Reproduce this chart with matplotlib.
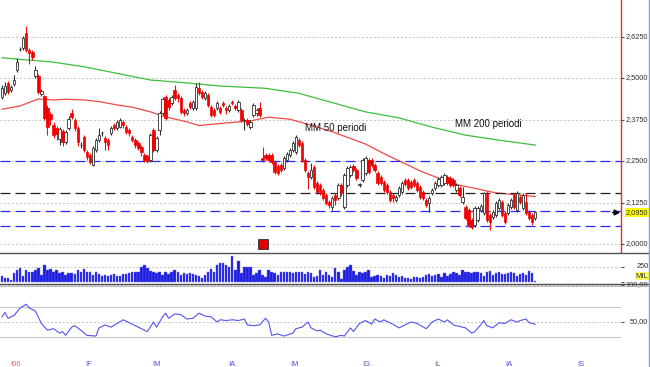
import matplotlib.pyplot as plt
import matplotlib.transforms as mtransforms
from matplotlib.lines import Line2D
import numpy as np

plt.rcParams['font.family'] = ['Liberation Sans', 'DejaVu Sans']

# candele giornaliere: apertura, massimo, minimo, chiusura
opens = [
    2.443, 2.455, 2.485, 2.464, 2.482, 2.524, 2.587, 2.590, 2.636, 2.584,
    2.578, 2.506, 2.506, 2.452, 2.446, 2.410, 2.392, 2.358, 2.349, 2.316,
    2.340, 2.307, 2.349, 2.395, 2.373, 2.349, 2.298, 2.322, 2.277, 2.268,
    2.238, 2.283, 2.313, 2.334, 2.319, 2.313, 2.334, 2.358, 2.349, 2.352,
    2.367, 2.352, 2.343, 2.322, 2.313, 2.304, 2.292, 2.268, 2.265, 2.253,
    2.343, 2.283, 2.343, 2.395, 2.443, 2.434, 2.425, 2.464, 2.449, 2.440,
    2.404, 2.395, 2.425, 2.410, 2.410, 2.470, 2.458, 2.440, 2.449, 2.413,
    2.404, 2.410, 2.410, 2.425, 2.410, 2.404, 2.428, 2.416, 2.404, 2.404,
    2.373, 2.373, 2.352, 2.389, 2.395, 2.410, 2.259, 2.268, 2.268, 2.268,
    2.247, 2.235, 2.238, 2.229, 2.253, 2.268, 2.283, 2.277, 2.313, 2.304,
    2.253, 2.214, 2.202, 2.232, 2.184, 2.178, 2.163, 2.148, 2.127, 2.111,
    2.148, 2.139, 2.178, 2.111, 2.178, 2.208, 2.235, 2.223, 2.178, 2.193,
    2.214, 2.253, 2.253, 2.238, 2.214, 2.202, 2.187, 2.178, 2.157, 2.148,
    2.133, 2.148, 2.157, 2.193, 2.193, 2.187, 2.193, 2.184, 2.172, 2.157,
    2.133, 2.123, 2.154, 2.169, 2.178, 2.178, 2.184, 2.202, 2.199, 2.193,
    2.163, 2.169, 2.127, 2.111, 2.102, 2.072, 2.057, 2.072, 2.102, 2.093,
    2.154, 2.087, 2.081, 2.087, 2.108, 2.127, 2.093, 2.093, 2.111, 2.148,
    2.102, 2.142, 2.108, 2.127, 2.096, 2.087, 2.078]
highs = [
    2.479, 2.488, 2.491, 2.479, 2.509, 2.560, 2.593, 2.627, 2.657, 2.590,
    2.584, 2.536, 2.512, 2.467, 2.449, 2.419, 2.398, 2.367, 2.355, 2.352,
    2.346, 2.343, 2.386, 2.407, 2.380, 2.355, 2.307, 2.328, 2.283, 2.274,
    2.295, 2.319, 2.349, 2.340, 2.325, 2.319, 2.355, 2.364, 2.373, 2.380,
    2.373, 2.358, 2.349, 2.328, 2.319, 2.310, 2.298, 2.274, 2.271, 2.334,
    2.349, 2.325, 2.401, 2.443, 2.449, 2.440, 2.449, 2.479, 2.455, 2.446,
    2.410, 2.410, 2.431, 2.434, 2.485, 2.488, 2.464, 2.461, 2.455, 2.419,
    2.410, 2.431, 2.416, 2.431, 2.416, 2.422, 2.434, 2.422, 2.434, 2.410,
    2.380, 2.380, 2.373, 2.425, 2.410, 2.428, 2.292, 2.274, 2.274, 2.274,
    2.253, 2.241, 2.244, 2.265, 2.277, 2.289, 2.310, 2.328, 2.319, 2.310,
    2.259, 2.220, 2.244, 2.238, 2.190, 2.184, 2.169, 2.154, 2.133, 2.145,
    2.154, 2.184, 2.184, 2.214, 2.235, 2.238, 2.241, 2.229, 2.184, 2.259,
    2.265, 2.259, 2.259, 2.244, 2.220, 2.208, 2.193, 2.184, 2.163, 2.154,
    2.148, 2.175, 2.190, 2.199, 2.199, 2.193, 2.199, 2.190, 2.178, 2.163,
    2.139, 2.145, 2.169, 2.190, 2.202, 2.208, 2.214, 2.208, 2.205, 2.199,
    2.184, 2.175, 2.172, 2.117, 2.108, 2.078, 2.114, 2.114, 2.120, 2.157,
    2.160, 2.093, 2.102, 2.130, 2.139, 2.133, 2.099, 2.123, 2.139, 2.154,
    2.160, 2.148, 2.154, 2.154, 2.102, 2.093, 2.099]
lows = [
    2.437, 2.449, 2.452, 2.458, 2.476, 2.518, 2.581, 2.584, 2.578, 2.542,
    2.554, 2.500, 2.452, 2.446, 2.373, 2.328, 2.358, 2.319, 2.313, 2.298,
    2.295, 2.301, 2.343, 2.377, 2.340, 2.295, 2.289, 2.277, 2.253, 2.241,
    2.235, 2.277, 2.307, 2.325, 2.283, 2.283, 2.328, 2.343, 2.343, 2.349,
    2.349, 2.331, 2.325, 2.307, 2.289, 2.283, 2.265, 2.247, 2.244, 2.247,
    2.277, 2.277, 2.328, 2.389, 2.373, 2.404, 2.419, 2.434, 2.428, 2.392,
    2.386, 2.389, 2.407, 2.404, 2.404, 2.449, 2.437, 2.434, 2.413, 2.383,
    2.383, 2.404, 2.392, 2.413, 2.392, 2.398, 2.419, 2.404, 2.398, 2.367,
    2.343, 2.355, 2.346, 2.383, 2.386, 2.383, 2.247, 2.253, 2.247, 2.241,
    2.211, 2.208, 2.217, 2.223, 2.247, 2.262, 2.277, 2.271, 2.292, 2.247,
    2.217, 2.166, 2.196, 2.166, 2.151, 2.148, 2.133, 2.117, 2.108, 2.102,
    2.117, 2.133, 2.145, 2.105, 2.172, 2.202, 2.217, 2.193, 2.172, 2.187,
    2.208, 2.211, 2.232, 2.217, 2.178, 2.178, 2.157, 2.151, 2.127, 2.127,
    2.127, 2.142, 2.151, 2.175, 2.163, 2.166, 2.172, 2.157, 2.136, 2.133,
    2.111, 2.096, 2.148, 2.163, 2.172, 2.172, 2.178, 2.178, 2.172, 2.172,
    2.157, 2.142, 2.120, 2.072, 2.051, 2.045, 2.051, 2.066, 2.096, 2.087,
    2.066, 2.042, 2.075, 2.081, 2.102, 2.081, 2.060, 2.087, 2.105, 2.105,
    2.096, 2.120, 2.102, 2.087, 2.072, 2.057, 2.072]
closes = [
    2.470, 2.476, 2.458, 2.473, 2.494, 2.548, 2.588, 2.620, 2.584, 2.575,
    2.563, 2.524, 2.458, 2.461, 2.380, 2.352, 2.377, 2.328, 2.331, 2.346,
    2.307, 2.337, 2.377, 2.383, 2.349, 2.307, 2.299, 2.283, 2.262, 2.247,
    2.289, 2.313, 2.328, 2.335, 2.307, 2.298, 2.349, 2.349, 2.367, 2.373,
    2.358, 2.337, 2.334, 2.313, 2.298, 2.289, 2.277, 2.253, 2.250, 2.328,
    2.283, 2.319, 2.395, 2.437, 2.380, 2.413, 2.443, 2.440, 2.440, 2.398,
    2.395, 2.404, 2.413, 2.428, 2.473, 2.455, 2.443, 2.455, 2.419, 2.389,
    2.389, 2.425, 2.398, 2.419, 2.404, 2.416, 2.425, 2.410, 2.428, 2.373,
    2.374, 2.361, 2.367, 2.419, 2.404, 2.389, 2.253, 2.259, 2.253, 2.247,
    2.217, 2.214, 2.223, 2.259, 2.271, 2.283, 2.304, 2.322, 2.298, 2.253,
    2.223, 2.202, 2.223, 2.172, 2.157, 2.157, 2.139, 2.123, 2.117, 2.139,
    2.133, 2.178, 2.154, 2.208, 2.229, 2.232, 2.223, 2.199, 2.179, 2.253,
    2.259, 2.217, 2.238, 2.223, 2.184, 2.184, 2.163, 2.157, 2.133, 2.139,
    2.142, 2.169, 2.184, 2.181, 2.169, 2.172, 2.178, 2.163, 2.142, 2.139,
    2.117, 2.139, 2.163, 2.184, 2.196, 2.202, 2.208, 2.184, 2.178, 2.178,
    2.178, 2.148, 2.142, 2.078, 2.057, 2.051, 2.108, 2.108, 2.114, 2.154,
    2.072, 2.066, 2.096, 2.123, 2.133, 2.087, 2.066, 2.117, 2.133, 2.111,
    2.154, 2.127, 2.148, 2.093, 2.078, 2.066, 2.095]

# volumi (migliaia)
volumes = [
    100, 67, 67, 28, 139, 195, 222, 100, 195, 167,
    156, 195, 222, 111, 278, 195, 211, 167, 195, 139,
    167, 111, 139, 139, 122, 195, 167, 211, 156, 167,
    111, 156, 122, 100, 111, 100, 111, 122, 100, 100,
    122, 122, 139, 156, 156, 156, 250, 267, 222, 178,
    156, 139, 156, 111, 167, 122, 167, 195, 167, 111,
    139, 122, 139, 122, 111, 100, 67, 111, 167, 211,
    167, 278, 306, 306, 278, 250, 417, 195, 344, 139,
    250, 250, 250, 111, 139, 195, 111, 83, 195, 156,
    139, 111, 156, 167, 156, 167, 150, 167, 167, 156,
    130, 167, 139, 83, 100, 195, 111, 156, 120, 83,
    222, 167, 56, 195, 250, 267, 180, 111, 167, 139,
    156, 195, 83, 100, 111, 90, 67, 111, 100, 139,
    111, 83, 100, 67, 67, 56, 75, 83, 67, 83,
    111, 122, 100, 111, 122, 83, 139, 100, 122, 156,
    139, 111, 195, 167, 156, 139, 156, 167, 139, 100,
    156, 178, 111, 139, 167, 130, 122, 150, 167, 140,
    100, 122, 150, 111, 178, 139, 20]

# medie mobili (indice candela, valore)
ma200_idx = [0, 6, 16, 27, 38, 49, 60, 72, 87, 98, 109, 120, 131, 142, 153, 164, 176]
ma200_val = [2.561, 2.556, 2.549, 2.534, 2.514, 2.494, 2.486, 2.476, 2.469, 2.454,
             2.426, 2.398, 2.380, 2.352, 2.328, 2.313, 2.298]
ma50_idx = [0, 6, 12, 17, 21, 27, 32, 38, 43, 49, 54, 61, 65, 72, 82, 88, 95, 102,
            109, 115, 120, 127, 134, 138, 149, 157, 163, 176]
ma50_val = [2.406, 2.416, 2.437, 2.434, 2.436, 2.434, 2.429, 2.419, 2.412, 2.398,
            2.383, 2.368, 2.357, 2.363, 2.371, 2.382, 2.376, 2.358, 2.338, 2.318,
            2.301, 2.268, 2.238, 2.220, 2.181, 2.166, 2.154, 2.143]

# RSI
rsi_idx = [0, 1, 2, 4, 6, 8, 9, 11, 13, 15, 17, 19, 20, 21, 23, 24, 26, 28, 31, 32,
           34, 36, 38, 40, 42, 45, 48, 50, 51, 53, 54, 55, 57, 59, 61, 63, 65, 67, 69, 71,
           72, 74, 76, 78, 80, 81, 83, 85, 87, 88, 89, 91, 93, 96, 97, 99, 101, 102, 104, 105,
           107, 110, 112, 113, 115, 116, 118, 120, 122, 123, 125, 126, 129, 131, 133, 135, 137, 140, 142, 144,
           146, 147, 149, 152, 153, 155, 156, 158, 159, 160, 162, 164, 166, 168, 170, 171, 173, 174, 176]
rsi_val = [57, 63, 55, 59, 69, 74, 69, 65, 48, 39, 41, 35, 37, 32, 43, 45, 39, 32, 31, 42,
           46, 43, 48, 53, 49, 43, 37, 50, 43, 57, 62, 55, 61, 60, 54, 55, 62, 58, 57, 50,
           53, 52, 53, 52, 54, 46, 45, 46, 55, 50, 32, 34, 31, 35, 41, 43, 50, 42, 38, 39,
           34, 30, 32, 31, 42, 37, 48, 52, 47, 54, 50, 53, 47, 42, 46, 50, 48, 41, 50, 54,
           50, 53, 46, 43, 42, 35, 37, 46, 52, 45, 42, 49, 48, 53, 50, 52, 54, 49, 47]

blue_levels = [2.25, 2.10, 2.055]
black_level = 2.155
price_ticks = [2.0, 2.125, 2.25, 2.375, 2.5, 2.625]
last_price = 2.095
event_idx = 86
month_pos = [2.6, 27.4, 49.5, 74.6, 95.0, 118.8, 142.6, 166.0, 189.8]
month_labels = ['I06', 'IF', 'IM', 'IA', 'IM', 'IG', 'IL', 'IA', 'IS']

W, H = 650, 367
fig = plt.figure(figsize=(W / 100, H / 100), dpi=100)
fig.patch.set_facecolor('white')
ax = fig.add_axes([0, 1 - 252 / H, 621 / W, 252 / H])
axv = fig.add_axes([0, 1 - 283 / H, 621 / W, 30 / H])
axr = fig.add_axes([0, 0, 621 / W, 83 / H])

xlim = (-0.66, 204.3)
lab_x = 648.5 / 621

# pannello prezzi
o = np.array(opens)
c = np.array(closes)
x = np.arange(len(o))
up = c >= o
ax.vlines(x[up], np.array(lows)[up], np.array(highs)[up], color='#303030', lw=0.8, zorder=3)
ax.vlines(x[~up], np.array(lows)[~up], np.array(highs)[~up], color='#F01010', lw=0.8, zorder=3)
body = np.maximum(np.abs(c - o), 0.0015)
ax.bar(x[up], body[up], bottom=np.minimum(o, c)[up], width=0.8, color='white',
       edgecolor='#303030', lw=0.6, zorder=4)
ax.bar(x[~up], body[~up], bottom=np.minimum(o, c)[~up], width=0.8, color='#F00000',
       edgecolor='#F00000', lw=0.5, zorder=4)

ax.plot(ma200_idx, ma200_val, color='#3CBF3C', lw=0.9, zorder=2)
ax.plot(ma50_idx, ma50_val, color='#F04848', lw=0.9, zorder=2)

for p in price_ticks:
    ax.axhline(p, color='#C4C4C4', lw=0.7, ls=(0, (2, 2)), zorder=1)
for p in blue_levels:
    ax.axhline(p, color='#2828F0', lw=0.9, ls=(0, (8, 4)), zorder=2)
ax.axhline(black_level, color='#202020', lw=0.9, ls=(0, (8, 4)), zorder=2)

ax.text(110, 2.349, 'MM 50 periodi', fontsize=7, ha='center', va='center', color='#101010')
ax.text(160.4, 2.361, 'MM 200 periodi', fontsize=7, ha='center', va='center', color='#101010')
ax.plot(event_idx, 2.0015, marker='s', ms=6.5, mfc='#E00000', mec='#303030', mew=0.6,
        clip_on=False, zorder=5)

ax.set_xlim(*xlim)
ax.set_ylim(1.976, 2.735)
ax.set_xticks([])
ax.yaxis.tick_right()
ax.set_yticks(price_ticks)
ax.tick_params(axis='y', length=2.5, width=0.8, color='#505050', labelright=False)
tr = mtransforms.blended_transform_factory(ax.transAxes, ax.transData)
for p in price_ticks:
    ax.text(lab_x, p, f'{p:.4f}'.replace('.', ','), transform=tr, fontsize=5.3,
            ha='right', va='center', color='#303030')
ax.text(lab_x, last_price, f'{last_price:.4f}'.replace('.', ','), transform=tr,
        fontsize=5.3, ha='right', va='center', color='#303030',
        bbox=dict(boxstyle='square,pad=0.15', fc='#FFFF00', ec='none'))
ax.plot([0.985, 0.992], [last_price, last_price], transform=tr, color='black', lw=0.8, clip_on=False)
ax.plot(0.992, last_price, marker='>', ms=3.5, color='black', transform=tr, clip_on=False)
for s in ['left', 'top', 'bottom']:
    ax.spines[s].set_visible(False)
ax.spines['right'].set_color('#E03030')
ax.spines['right'].set_linewidth(1.0)

# pannello volumi
axv.bar(x, volumes, width=0.8, color='#1C1CE0', edgecolor='#6C6CE8', lw=0.3)
axv.axhline(250, color='#C4C4C4', lw=0.7, ls=(0, (2, 2)), zorder=0)
axv.set_xlim(*xlim)
axv.set_ylim(-16, 468)
axv.set_xticks([])
axv.yaxis.tick_right()
axv.set_yticks([0, 250])
axv.tick_params(axis='y', length=2.5, width=0.8, color='#505050', labelright=False)
trv = mtransforms.blended_transform_factory(axv.transAxes, axv.transData)
axv.text(lab_x, 250, '250', transform=trv, fontsize=5.3, ha='right', va='center', color='#303030')
axv.text(lab_x, 95, 'MIL', transform=trv, fontsize=5.5, ha='right', va='center', color='#303030',
         bbox=dict(boxstyle='square,pad=0.1', fc='#FFFF60', ec='none'))
for s in axv.spines.values():
    s.set_visible(False)

# pannello RSI
axr.plot(rsi_idx, rsi_val, color='#5454F0', lw=0.8)
for v in [70, 30]:
    axr.axhline(v, color='#C8C8C8', lw=0.8, zorder=0)
for v in [100, 50]:
    axr.axhline(v, color='#C4C4C4', lw=0.7, ls=(0, (2, 2)), zorder=0)
axr.set_xlim(*xlim)
axr.set_ylim(-10.8, 101.35)
axr.set_xticks([])
axr.yaxis.tick_right()
axr.set_yticks([100, 50])
axr.tick_params(axis='y', length=2.5, width=0.8, color='#505050', labelright=False)
trr = mtransforms.blended_transform_factory(axr.transAxes, axr.transData)
axr.text(lab_x, 100, '100,00', transform=trr, fontsize=5.3, ha='right', va='center', color='#303030')
axr.text(lab_x, 50, '50,00', transform=trr, fontsize=5.3, ha='right', va='center', color='#303030')
for i, (pos, lab) in enumerate(zip(month_pos, month_labels)):
    col = '#F06060' if i == 0 else '#5050E0'
    axr.text(pos, -6.8, lab, fontsize=5.5, ha='left', va='center', color=col)
for s in axr.spines.values():
    s.set_visible(False)

# separatori tra i pannelli
fig.add_artist(Line2D([0, 1], [1 - 252.5 / H] * 2, color='#505050', lw=1.0))
fig.add_artist(Line2D([0, 1], [1 - 283.5 / H] * 2, color='#505050', lw=1.0))
fig.add_artist(Line2D([0, 1], [1 - 285.5 / H] * 2, color='#B0B0B0', lw=0.6))
fig.add_artist(Line2D([649.3 / W] * 2, [0, 1], color='#9898C8', lw=1.0))

plt.savefig('out.png', dpi=100)
